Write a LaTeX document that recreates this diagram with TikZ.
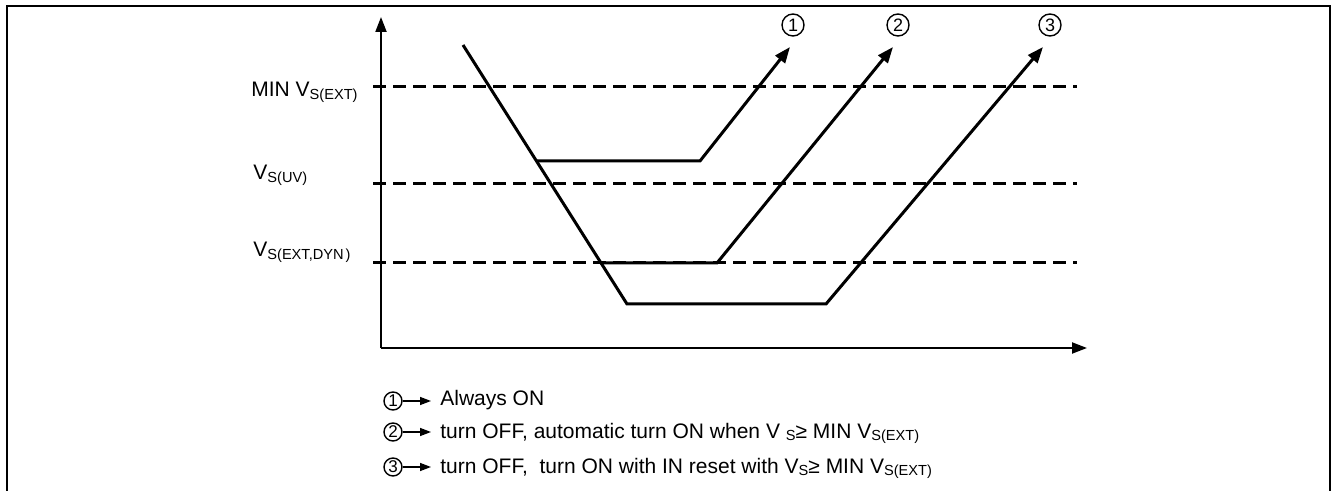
\documentclass[tikz,border=0pt]{standalone}
\usepackage{fontspec}
\setmainfont{Liberation Sans}
\usetikzlibrary{arrows.meta}
\newcommand{\lsub}[1]{\raisebox{-1.3pt}{\fontsize{7.3}{8}\selectfont #1}}
\begin{document}
\begin{tikzpicture}[x=0.5pt,y=-0.5pt,
  frame/.style={line width=1pt},
  curve/.style={line width=1.5pt, line join=miter},
  curvearrow/.style={curve, -{Triangle[length=8pt,width=6pt]}},
  lvl/.style={line width=1.5pt, dash pattern=on 6.5pt off 3.5pt},
  axis/.style={line width=1pt, -{Triangle[length=7.5pt,width=5.5pt]}},
  numc/.style={circle, draw, line width=0.7pt, minimum size=11pt, inner sep=0pt, font=\fontsize{9}{10}\selectfont},
  legc/.style={circle, draw, line width=0.7pt, minimum size=9pt, inner sep=0pt, font=\fontsize{8.5}{9}\selectfont},
  legarrow/.style={line width=0.7pt, -{Triangle[length=5.5pt,width=4pt]}},
  lbl/.style={anchor=base west, inner sep=0pt, font=\fontsize{10.5}{12}\selectfont}
]
\useasboundingbox (0,0) rectangle (1332,491);
% frame
\draw[frame] (7,495) -- (7,6) -- (1330,6) -- (1330,495);
% axes
\coordinate (O) at (381,348);
\coordinate (ytip) at (381,17);
\coordinate (xtip) at (1087,348);
\draw[axis] (O) -- (ytip);
\draw[axis] (O) -- (xtip);
% levels
\coordinate (a1) at (373,87);  \coordinate (a2) at (1077,87);
\coordinate (b1) at (373,184); \coordinate (b2) at (1077,184);
\coordinate (c1) at (373,263); \coordinate (c2) at (1077,263);
\draw[lvl] (a1) -- (a2);
\draw[lvl] (b1) -- (b2);
\draw[lvl] (c1) -- (c2);
\node[lbl] (la) at (251,97) {MIN V\lsub{S(EXT)}};
\node[lbl] (lb) at (253,180) {V\lsub{S(UV)}};
\node[lbl] (lc) at (253,257) {V\lsub{S(EXT,DYN\kern1pt)}};
% curves
\coordinate (s) at (463,45);
\coordinate (p1) at (537,161);
\coordinate (q1) at (700,161);
\coordinate (t1) at (790,47);
\coordinate (p2) at (600,263);
\coordinate (q2) at (717,263);
\coordinate (t2) at (893,47);
\coordinate (p3) at (627,304);
\coordinate (q3) at (826,304);
\coordinate (t3) at (1043,47);
\draw[curvearrow] (s) -- (p3) -- (q3) -- (t3);
\draw[curvearrow] (p1) -- (q1) -- (t1);
\draw[curvearrow] (p2) -- (q2) -- (t2);
\node[numc] (n1) at (793,25) {1};
\node[numc] (n2) at (898,25) {2};
\node[numc] (n3) at (1050,25) {3};
% legend
\node[legc] (g1) at (393,401) {1};
\node[legc] (g2) at (393,432) {2};
\node[legc] (g3) at (393,467) {3};
\coordinate (e1) at (431,401);
\coordinate (e2) at (431,432);
\coordinate (e3) at (431,467);
\draw[legarrow] (g1.east) -- (e1);
\draw[legarrow] (g2.east) -- (e2);
\draw[legarrow] (g3.east) -- (e3);
\node[lbl] (t1l) at (440,406) {Always ON};
\node[lbl] (t2l) at (440,438) {turn OFF, automatic turn ON when V \lsub{S}≥ MIN V\lsub{S(EXT)}};
\node[lbl] (t3l) at (440,473) {turn OFF,\ \ turn ON with IN reset with V\lsub{S}≥ MIN V\lsub{S(EXT)}};
\end{tikzpicture}
\end{document}
